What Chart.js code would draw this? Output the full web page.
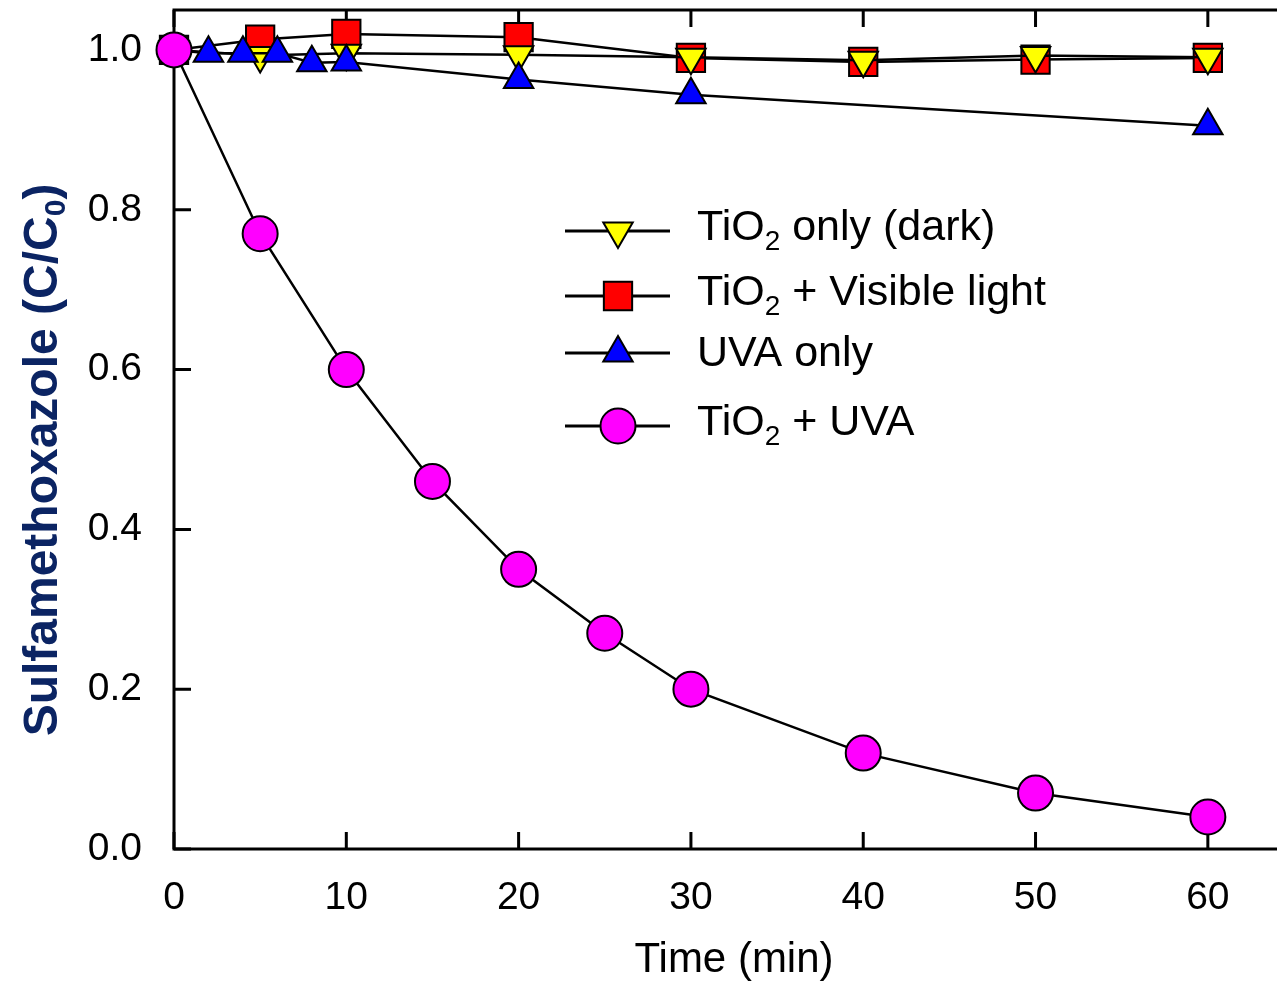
<!DOCTYPE html>
<html>
<head>
<meta charset="utf-8">
<script src="https://cdn.jsdelivr.net/npm/chart.js@4/dist/chart.umd.min.js"></script>
<style>
  html, body { margin: 0; padding: 0; background: #fff; }
  #wrap { width: 1277px; height: 986px; overflow: hidden; position: relative; }
</style>
</head>
<body>
<div id="wrap"><canvas id="chart" width="1310" height="986"></canvas></div>
<script>
// time points (min) and C/C0 values
const timeDark = [0, 5, 10, 20, 30, 40, 50, 60];
const tio2Dark = [1.0, 0.993, 0.996, 0.994, 0.991, 0.987, 0.993, 0.991];

const timeVis = [0, 5, 10, 20, 30, 40, 50, 60];
const tio2Vis = [1.0, 1.013, 1.02, 1.016, 0.99, 0.985, 0.988, 0.99];

const timeUva = [0, 2, 4, 6, 8, 10, 20, 30, 60];
const uvaOnly = [1.0, 0.996, 0.996, 0.996, 0.984, 0.985, 0.963, 0.944, 0.905];

const timeTio2Uva = [0, 5, 10, 15, 20, 25, 30, 40, 50, 60];
const tio2Uva = [1.0, 0.77, 0.60, 0.46, 0.35, 0.27, 0.20, 0.12, 0.07, 0.04];

const xTicks = [0, 10, 20, 30, 40, 50, 60];
const yTicks = [0, 0.2, 0.4, 0.6, 0.8, 1.0];

const FONT = "'Liberation Sans', Arial, sans-serif";

function pts(xs, ys) {
    return xs.map((x, i) => ({ x: x, y: ys[i] }));
}

// legend labels are split so the "2" can be drawn as a subscript
const legendRows = [
    { pre: 'TiO', sub: '2', post: ' only (dark)', base: 240 },
    { pre: 'TiO', sub: '2', post: ' + Visible light', base: 305 },
    { pre: 'UVA only', sub: '', post: '', base: 366 },
    { pre: 'TiO', sub: '2', post: ' + UVA', base: 435 },
];
const legendLineY = [231, 296, 353, 426];

function markerFallback(ctx, o, x, y) {
    const r = o.radius;
    ctx.beginPath();
    if (o.pointStyle === 'circle') {
        ctx.arc(x, y, r, 0, Math.PI * 2);
    } else if (o.pointStyle === 'rect') {
        const s = Math.SQRT1_2 * r;
        ctx.rect(x - s, y - s, 2 * s, 2 * s);
    } else {
        let a = (o.rotation || 0) * Math.PI / 180;
        ctx.moveTo(x + Math.sin(a) * r, y - Math.cos(a) * r);
        a += 2 * Math.PI / 3;
        ctx.lineTo(x + Math.sin(a) * r, y - Math.cos(a) * r);
        a += 2 * Math.PI / 3;
        ctx.lineTo(x + Math.sin(a) * r, y - Math.cos(a) * r);
        ctx.closePath();
    }
    ctx.fill();
    ctx.stroke();
}

const framePlugin = {
    id: 'frame',
    beforeDatasetsDraw(chart) {
        const { ctx, chartArea: a, scales } = chart;
        const tl = 17;
        ctx.save();
        ctx.strokeStyle = '#000';
        ctx.lineWidth = 3;
        ctx.strokeRect(a.left, a.top, a.right - a.left, a.bottom - a.top);
        ctx.beginPath();
        xTicks.forEach(v => {
            const px = scales.x.getPixelForValue(v);
            ctx.moveTo(px, a.bottom); ctx.lineTo(px, a.bottom - tl);
            ctx.moveTo(px, a.top); ctx.lineTo(px, a.top + tl);
        });
        yTicks.forEach(v => {
            const py = scales.y.getPixelForValue(v);
            ctx.moveTo(a.left, py); ctx.lineTo(a.left + tl, py);
            ctx.moveTo(a.right, py); ctx.lineTo(a.right - tl, py);
        });
        ctx.stroke();
        ctx.restore();
    },
    afterDraw(chart) {
        const ctx = chart.ctx;
        ctx.save();

        // y axis title with subscript 0
        ctx.translate(57, 460);
        ctx.rotate(-Math.PI / 2);
        ctx.fillStyle = '#0b2463';
        ctx.textBaseline = 'alphabetic';
        ctx.textAlign = 'left';
        const big = 'bold 48px ' + FONT, small = 'bold 30px ' + FONT;
        const p1 = 'Sulfamethoxazole (C/C', p2 = '0', p3 = ')';
        ctx.font = big;
        const w1 = ctx.measureText(p1).width, w3 = ctx.measureText(p3).width;
        ctx.font = small;
        const w2 = ctx.measureText(p2).width;
        let x0 = -(w1 + w2 + w3) / 2;
        ctx.font = big; ctx.fillText(p1, x0, 0);
        ctx.font = small; ctx.fillText(p2, x0 + w1, 8);
        ctx.font = big; ctx.fillText(p3, x0 + w1 + w2, 0);
        ctx.restore();

        // legend: line through marker, then label
        ctx.save();
        const dsOrder = [0, 1, 2, 3];
        dsOrder.forEach((di, row) => {
            const ds = chart.data.datasets[di];
            const ly = legendLineY[row];
            ctx.strokeStyle = '#000';
            ctx.lineWidth = 3;
            ctx.beginPath();
            ctx.moveTo(565, ly); ctx.lineTo(670, ly);
            ctx.stroke();
            ctx.fillStyle = ds.pointBackgroundColor;
            ctx.strokeStyle = '#000';
            ctx.lineWidth = ds.pointBorderWidth;
            const o = { pointStyle: ds.pointStyle, radius: ds.pointRadius, rotation: ds.pointRotation || 0, borderWidth: ds.pointBorderWidth };
            if (Chart.helpers && Chart.helpers.drawPoint) {
                Chart.helpers.drawPoint(ctx, o, 618, ly);
            } else {
                markerFallback(ctx, o, 618, ly);
            }

            const r = legendRows[row];
            ctx.fillStyle = '#000';
            ctx.textAlign = 'left';
            ctx.textBaseline = 'alphabetic';
            let tx = 697;
            ctx.font = '43px ' + FONT;
            ctx.fillText(r.pre, tx, r.base);
            tx += ctx.measureText(r.pre).width;
            if (r.sub) {
                ctx.font = '28px ' + FONT;
                ctx.fillText(r.sub, tx, r.base + 10);
                tx += ctx.measureText(r.sub).width;
            }
            ctx.font = '43px ' + FONT;
            ctx.fillText(r.post, tx, r.base);
        });
        ctx.restore();
    }
};

const common = {
    showLine: true,
    borderColor: '#000',
    borderWidth: 2.5,
    tension: 0,
    pointBorderColor: '#000',
    pointBorderWidth: 2,
    clip: false,
};

const ctx = document.getElementById('chart').getContext('2d');
const chart = new Chart(ctx, {
    type: 'scatter',
    data: {
        datasets: [
            Object.assign({}, common, {
                label: 'TiO2 only (dark)',
                data: pts(timeDark, tio2Dark),
                pointStyle: 'triangle', pointRotation: 180, pointRadius: 17,
                pointBackgroundColor: '#ffff00', order: 2,
            }),
            Object.assign({}, common, {
                label: 'TiO2 + Visible light',
                data: pts(timeVis, tio2Vis),
                pointStyle: 'rect', pointRadius: 20,
                pointBackgroundColor: '#ff0000', order: 3,
            }),
            Object.assign({}, common, {
                label: 'UVA only',
                data: pts(timeUva, uvaOnly),
                pointStyle: 'triangle', pointRadius: 17,
                pointBackgroundColor: '#0000ff', order: 1,
            }),
            Object.assign({}, common, {
                label: 'TiO2 + UVA',
                data: pts(timeTio2Uva, tio2Uva),
                pointStyle: 'circle', pointRadius: 17.5,
                pointBackgroundColor: '#ff00ff', order: 0,
            }),
        ]
    },
    options: {
        responsive: false,
        animation: false,
        layout: { autoPadding: false, padding: { top: 10, right: 16, left: 0, bottom: 0 } },
        plugins: {
            legend: { display: false },
            tooltip: { enabled: false }
        },
        scales: {
            x: {
                type: 'linear',
                min: 0,
                max: 65,
                grid: { display: false, drawTicks: false },
                border: { display: false },
                afterBuildTicks: s => { s.ticks = xTicks.map(v => ({ value: v })); },
                afterFit: s => { s.height = 137; s.paddingLeft = 0; s.paddingRight = 0; },
                ticks: {
                    font: { family: FONT, size: 39 },
                    color: '#000',
                    padding: 26,
                    maxRotation: 0,
                    callback: v => String(v)
                },
                title: {
                    display: true,
                    text: 'Time (min)',
                    color: '#000',
                    font: { family: FONT, size: 42 },
                    padding: { top: 0, bottom: 0 }
                }
            },
            y: {
                type: 'linear',
                min: 0,
                max: 1.05,
                grid: { display: false, drawTicks: false },
                border: { display: false },
                afterBuildTicks: s => { s.ticks = yTicks.map(v => ({ value: v })); },
                afterFit: s => { s.width = 174; s.paddingTop = 0; s.paddingBottom = 0; },
                ticks: {
                    font: { family: FONT, size: 39 },
                    color: '#000',
                    padding: 32,
                    callback: v => v.toFixed(1)
                }
            }
        }
    },
    plugins: [framePlugin]
});
</script>
</body>
</html>
